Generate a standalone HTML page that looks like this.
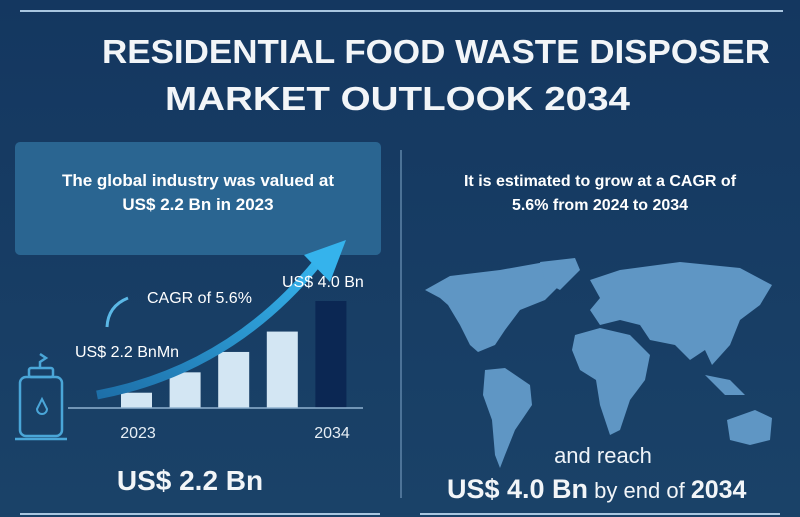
<!DOCTYPE html>
<html><head><meta charset="utf-8"><style>
html,body{margin:0;padding:0;width:800px;height:517px;overflow:hidden;background:#163a60}
svg{display:block;font-family:"Liberation Sans",sans-serif}
</style></head><body>
<svg width="800" height="517" viewBox="0 0 800 517">
<defs>
<linearGradient id="bg" x1="0" y1="0" x2="0" y2="1"><stop offset="0" stop-color="#143760"/><stop offset="1" stop-color="#1a4268"/></linearGradient>
<linearGradient id="arr" x1="0" y1="1" x2="1" y2="0"><stop offset="0" stop-color="#1d6fa8"/><stop offset="1" stop-color="#35b3ec"/></linearGradient>
</defs>
<rect width="800" height="517" fill="url(#bg)"/>
<line x1="20" y1="11" x2="783" y2="11" stroke="#a9c6e0" stroke-width="2"/>
<text x="102" y="63" font-size="33" font-weight="bold" fill="#f2f5f8" textLength="668" lengthAdjust="spacingAndGlyphs">RESIDENTIAL FOOD WASTE DISPOSER</text>
<text x="165" y="110" font-size="33" font-weight="bold" fill="#f2f5f8" textLength="465" lengthAdjust="spacingAndGlyphs">MARKET OUTLOOK 2034</text>
<line x1="401" y1="150" x2="401" y2="498" stroke="#5e84a8" stroke-width="1.5"/>
<rect x="15" y="142" width="366" height="113" rx="5" fill="#2a6591"/>
<text x="198" y="186" font-size="17" font-weight="bold" fill="#fff" text-anchor="middle">The global industry was valued at</text>
<text x="198" y="210" font-size="17" font-weight="bold" fill="#fff" text-anchor="middle">US$ 2.2 Bn in 2023</text>
<text x="600" y="186" font-size="16" font-weight="bold" fill="#fff" text-anchor="middle">It is estimated to grow at a CAGR of</text>
<text x="600" y="210" font-size="16" font-weight="bold" fill="#fff" text-anchor="middle">5.6% from 2024 to 2034</text>
<g id="bars"></g>
<line x1="68" y1="408" x2="363" y2="408" stroke="#8fb2d0" stroke-width="1.5"/>
<path d="M97,395 Q230,370 318,262" fill="none" stroke="url(#arr)" stroke-width="9"/>
<polygon points="346,240 330,282 304,255" fill="#35b3ec"/>
<path d="M107,327 Q108,306 128,298" fill="none" stroke="#5bb8e6" stroke-width="3"/>
<text x="147" y="303" font-size="16" fill="#fff">CAGR of 5.6%</text>
<text x="282" y="287" font-size="16" fill="#fff">US$ 4.0 Bn</text>
<text x="75" y="357" font-size="16" fill="#fff">US$ 2.2 BnMn</text>
<text x="138" y="438" font-size="16" fill="#e6eef5" text-anchor="middle">2023</text>
<text x="332" y="438" font-size="16" fill="#e6eef5" text-anchor="middle">2034</text>
<g fill="none" stroke="#4aa6d8" stroke-width="2.5">
<rect x="20" y="377" width="42" height="59" rx="6"/>
<rect x="29" y="368" width="24" height="9" rx="2"/>
<path d="M40,368 v-6 l6,-4 -6,-4"/>
<line x1="15" y1="439" x2="67" y2="439"/>
<path d="M37,409 q4,-8 5,-10 q1,2 5,10 a5,5 0 0 1 -10,0z" stroke-width="2"/>
</g>
<text x="190" y="490" font-size="28" font-weight="bold" fill="#f2f5f8" text-anchor="middle">US$ 2.2 Bn</text>
<line x1="20" y1="514" x2="380" y2="514" stroke="#a9c6e0" stroke-width="2"/>
<line x1="420" y1="514" x2="780" y2="514" stroke="#a9c6e0" stroke-width="2"/>
<g fill="#5f96c4">
<path d="M425,290 L450,276 L500,270 L545,262 L575,265 L560,285 L545,300 L520,310 L505,330 L495,345 L478,352 L470,345 L460,325 L448,305 L440,298Z"/>
<path d="M540,262 L575,258 L580,270 L560,290 L545,282Z"/>
<path d="M485,370 L505,368 L530,385 L532,405 L515,430 L505,455 L500,468 L495,455 L492,420 L483,395Z"/>
<path d="M590,280 L620,270 L680,262 L740,268 L772,285 L760,305 L740,320 L730,345 L712,365 L705,350 L690,360 L675,345 L650,340 L640,325 L620,320 L600,325 L590,310 L600,298Z"/>
<path d="M575,335 L600,328 L630,335 L650,355 L645,380 L630,400 L620,430 L610,435 L600,405 L596,380 L580,370 L572,350Z"/>
<path d="M727,420 L755,410 L772,418 L770,440 L750,445 L730,440Z"/>
<path d="M705,375 L730,380 L745,395 L725,395Z"/>
</g>
<text x="603" y="463" font-size="22" fill="#eef3f8" text-anchor="middle">and reach</text>
<text x="447" y="498" font-size="27" fill="#f2f5f8"><tspan font-weight="bold">US$ 4.0 Bn</tspan><tspan font-size="22"> by end of </tspan><tspan font-weight="bold" font-size="25">2034</tspan></text>
</svg>
<script>
const years = ["2023","2026","2029","2032","2034"];
const values = [2.2, 2.6, 3.0, 3.4, 4.0];
const yMin = 1.9, yMax = 4.0;
const baseY = 408, topY = 301;
function yScale(v){ return baseY - (v - yMin) / (yMax - yMin) * (baseY - topY); }
function xScale(i){ return 121 + i * 48.6; }
const g = document.getElementById('bars');
values.forEach((v,i)=>{
  const r = document.createElementNS('http://www.w3.org/2000/svg','rect');
  r.setAttribute('x', xScale(i));
  r.setAttribute('y', yScale(v));
  r.setAttribute('width', 31);
  r.setAttribute('height', baseY - yScale(v));
  r.setAttribute('fill', i === values.length-1 ? '#0b2753' : '#d3e6f3');
  
  
  g.appendChild(r);
});
</script>
</body></html>
